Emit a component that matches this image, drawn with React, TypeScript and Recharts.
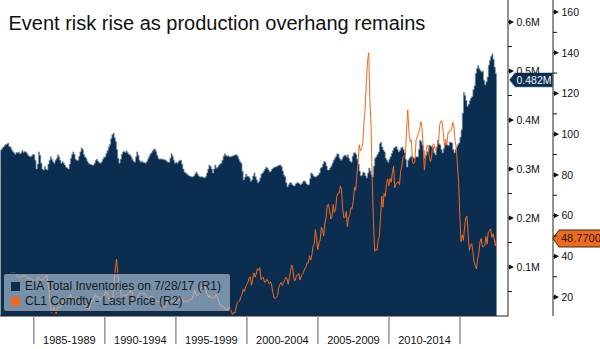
import React from 'react';
import { ComposedChart, Area, Line, XAxis, YAxis, ReferenceLine, Legend } from 'recharts';

// ---- data (monthly, starting Aug 1982) ----
const firstYear = 1982;
const firstMonth = 8;

// EIA total inventories (million barrels -> shown as "M" of thousand barrels)
const inventories: number[] = [
  339, 342, 345, 348, 350,
  351, 353, 346, 345, 340, 336, 333, 330, 334, 333, 335, 331,
  333, 338, 334, 336, 335, 332, 328, 326, 325, 327, 330, 329,
  318, 300, 310, 335, 328, 312, 300, 298, 305, 300, 298, 310,
  318, 325, 320, 315, 312, 318, 322, 329, 325, 318, 312, 315,
  312, 308, 304, 302, 300, 310, 322, 330, 335, 330, 320, 318,
  318, 326, 335, 343, 340, 330, 325, 322, 316, 312, 310, 309,
  308, 308, 312, 318, 320, 316, 313, 312, 315, 320, 324, 325,
  332, 338, 345, 350, 362, 370, 373, 364, 356, 340, 322, 312,
  320, 330, 335, 336, 334, 337, 333, 330, 329, 325, 320, 316,
  314, 325, 335, 328, 318, 314, 316, 314, 313, 312, 315, 320,
  325, 330, 333, 337, 340, 341, 336, 328, 322, 320, 321, 320,
  320, 319, 318, 316, 314, 314, 322, 331, 326, 318, 312, 314,
  312, 316, 318, 318, 310, 300, 294, 292, 290, 288, 286, 285,
  284, 284, 286, 290, 294, 290, 286, 284, 284, 284, 283, 282,
  285, 292, 300, 308, 305, 300, 292, 300, 308, 302, 304, 308,
  310, 312, 318, 326, 331, 328, 326, 327, 325, 325, 326, 327,
  328, 329, 329, 326, 320, 315, 312, 295, 278, 283, 290, 285,
  285, 282, 275, 278, 286, 292, 284, 278, 272, 275, 282, 290,
  292, 296, 300, 304, 302, 298, 294, 296, 300, 302, 304, 304,
  306, 306, 308, 308, 305, 296, 288, 284, 272, 264, 268, 272,
  272, 268, 266, 266, 270, 272, 272, 270, 268, 270, 274, 276,
  274, 270, 268, 268, 280, 292, 290, 286, 284, 284, 286, 288,
  292, 302, 304, 310, 316, 314, 306, 298, 298, 302, 306, 312,
  318, 322, 326, 331, 330, 322, 318, 320, 325, 328, 328, 325,
  329, 322, 316, 314, 326, 333, 333, 330, 320, 310, 296, 286,
  288, 294, 292, 286, 282, 292, 302, 296, 288, 284, 306, 322,
  325, 330, 335, 352, 355, 345, 339, 335, 322, 318, 314, 320,
  325, 332, 338, 343, 345, 346, 340, 335, 338, 343, 345, 340,
  333, 320, 304, 318, 322, 325, 326, 324, 322, 324, 325, 325,
  340, 359, 356, 349, 338, 322, 328, 335, 338, 349, 347, 345,
  345, 333, 329, 345, 359, 352, 349, 340, 333, 342, 353, 350,
  349, 348, 355, 354, 353, 340, 333, 340, 345, 350, 353, 365,
  380, 414, 456, 450, 440, 428, 432, 440, 445, 448, 462, 470,
  495, 505, 511, 505, 501, 498, 500, 481, 472, 478, 488, 512,
  522, 530, 535, 524, 508, 495, 482,
];

// CL1 Comdty last price (USD/bbl)
const prices: (number | null)[] = [
  null, null, null, null, null,
  null, null, null, 31.5, 31.8, 31.6, 31.8, 31.9, 31.2, 30.6, 29.9, 29.4,
  29.8, 30.2, 30.8, 30.6, 30.5, 29.9, 29.0, 29.4, 29.3, 28.9, 28.2, 27.8,
  26.8, 28.0, 29.0, 29.8, 29.0, 28.2, 28.3, 28.6, 29.2, 30.0, 30.8, 27.2,
  22.5, 15.8, 12.4, 12.8, 15.2, 13.3, 11.8, 14.8, 14.9, 15.0, 15.3, 16.2,
  18.6, 17.8, 18.5, 18.9, 19.6, 20.2, 21.3, 20.0, 19.4, 19.8, 18.8, 17.2,
  17.0, 16.8, 16.4, 17.9, 17.6, 16.6, 15.6, 15.4, 14.6, 14.0, 14.2, 16.4,
  18.1, 17.9, 19.6, 21.2, 20.1, 20.2, 19.8, 18.7, 19.8, 20.3, 19.9, 21.5,
  22.9, 22.0, 20.3, 18.5, 18.3, 17.0, 18.8, 27.5, 34.5, 38.5, 31.8, 27.0,
  25.0, 20.6, 19.8, 20.8, 21.2, 20.3, 21.4, 21.8, 22.1, 23.4, 22.6, 19.6,
  18.9, 19.1, 19.0, 20.3, 21.0, 22.3, 21.8, 21.4, 21.9, 21.6, 20.4, 19.5,
  19.2, 20.0, 20.3, 20.3, 19.9, 19.0, 17.8, 18.0, 17.6, 18.2, 16.6, 14.6,
  15.0, 14.8, 14.8, 16.5, 17.9, 19.2, 19.7, 18.4, 17.6, 17.8, 18.1, 17.3,
  18.0, 18.5, 18.6, 19.9, 19.7, 18.4, 17.4, 18.0, 18.2, 17.5, 18.1, 19.1,
  18.9, 19.2, 21.4, 23.5, 21.3, 20.6, 21.4, 22.0, 24.0, 25.0, 23.8, 25.4,
  25.2, 22.2, 21.0, 19.8, 20.8, 19.3, 19.7, 19.9, 19.8, 21.3, 20.3, 18.4,
  16.8, 16.1, 15.1, 15.5, 15.0, 13.8, 14.2, 13.4, 15.1, 14.5, 12.9, 11.4,
  12.6, 12.1, 14.8, 17.4, 17.9, 18.0, 20.2, 21.3, 23.9, 22.7, 25.1, 26.2,
  27.3, 29.5, 29.9, 25.8, 28.9, 31.9, 29.8, 31.3, 33.9, 33.2, 34.5, 28.5,
  29.6, 29.7, 27.3, 27.5, 28.7, 27.7, 26.6, 27.5, 26.0, 22.3, 19.7, 19.4,
  19.8, 20.8, 24.5, 26.3, 27.1, 25.6, 27.0, 28.4, 29.7, 29.0, 26.3, 29.5,
  33.0, 35.8, 33.5, 28.3, 28.2, 30.7, 30.8, 31.6, 28.4, 30.3, 31.1, 32.2,
  34.3, 34.7, 36.8, 36.8, 40.3, 38.1, 40.7, 44.9, 45.9, 53.2, 48.5, 43.3,
  46.8, 48.0, 54.3, 53.0, 49.9, 56.4, 59.0, 65.0, 65.6, 62.4, 58.3, 59.4,
  65.5, 61.6, 62.9, 69.4, 70.8, 71.0, 74.4, 73.0, 63.8, 58.9, 59.1, 62.0,
  54.5, 59.3, 60.4, 63.9, 63.5, 67.5, 74.1, 72.4, 79.9, 85.8, 94.8, 91.7,
  92.9, 95.4, 105.4, 112.6, 125.4, 136.0, 140.0, 116.7, 104.1, 76.6, 57.3, 42.5,
  43.5, 43.0, 48.0, 49.7, 59.0, 69.6, 64.1, 71.0, 69.4, 75.7, 78.0, 74.5,
  78.3, 76.4, 81.2, 84.3, 73.7, 75.3, 76.3, 76.6, 75.2, 81.9, 84.2, 89.0,
  89.4, 89.6, 102.9, 112.0, 100.9, 96.3, 97.3, 86.3, 85.5, 86.3, 97.2, 98.6,
  100.3, 102.2, 106.2, 103.3, 94.7, 82.3, 87.9, 94.1, 94.5, 89.5, 86.5, 87.9,
  94.8, 95.3, 92.9, 92.0, 94.5, 95.8, 104.6, 106.6, 106.3, 100.5, 93.9, 97.6,
  94.6, 100.8, 100.8, 102.1, 102.2, 105.8, 103.6, 96.5, 93.2, 84.4, 75.8, 59.3,
  47.2, 50.6, 47.8, 54.5, 59.3, 59.8, 50.9, 42.9, 45.5, 46.2, 42.4, 37.2,
  35.5, 33.8, 38.5, 41.5, 47.0, 48.8, 44.7, 44.7, 45.2, 49.8, 46.0, 52.0,
  52.5, 53.5, 49.3, 51.1, 48.5, 45.2, 48.77,
];

const periodStarts = [1985, 1990, 1995, 2000, 2005, 2010, 2015];
const periodLabels = ['1985-1989', '1990-1994', '1995-1999', '2000-2004', '2005-2009', '2010-2014'];
const xDomain: [number, number] = [1982.62, 2018.38];
const r1Ticks = [50, 100, 150, 200, 250, 300, 350, 400, 450, 500, 550, 600];
const r1Major = [100, 200, 300, 400, 500, 600];
const r1Domain: [number, number] = [0, 645];
const r2Ticks = [20, 30, 40, 50, 60, 70, 80, 90, 100, 110, 120, 130, 140, 150, 160];
const r2Major = [20, 40, 60, 80, 100, 120, 140, 160];
const r2Domain: [number, number] = [10.7, 165.9];

const titleText = 'Event risk rise as production overhang remains';
const seriesNames = ['EIA Total Inventories on 7/28/17 (R1)', 'CL1 Comdty - Last Price (R2)'];

const NAVY = '#0b2e50';
const ORANGE = '#f06a1e';
const FONT = '"Liberation Sans", Arial, sans-serif';

const rows = inventories.map((inv, i) => ({
  t: firstYear + (firstMonth - 1 + i + 0.9) / 12,
  inv,
  price: prices[i],
}));

const lastInventory = inventories[inventories.length - 1];
const lastPrice = prices[prices.length - 1] as number;

const xTicks: number[] = [];
periodStarts.forEach((s, k) => {
  xTicks.push(s);
  if (k < periodLabels.length) xTicks.push(s + 2.5);
});

const XTick = (props: any) => {
  const { x, y, payload } = props;
  const v = payload.value;
  const idx = periodStarts.indexOf(v);
  if (idx >= 0) {
    return <line x1={x} x2={x} y1={y} y2={y + 28} stroke="#9a9a9a" strokeWidth={1.6} />;
  }
  const li = periodStarts.indexOf(v - 2.5);
  return (
    <text x={x} y={y + 28} textAnchor="middle" fontSize={11} fontFamily={FONT} fill="#111">
      {periodLabels[li]}
    </text>
  );
};

const makeYTick = (major: number[], fmt: (v: number) => string) => (props: any) => {
  const { x, y, payload } = props;
  const v = payload.value;
  if (major.indexOf(v) >= 0) {
    return (
      <g>
        <line x1={x} x2={x + 2} y1={y} y2={y} stroke="#111" strokeWidth={1} />
        <polygon points={`${x + 1},${y - 2.6} ${x + 6},${y} ${x + 1},${y + 2.6}`} fill="#111" />
        <text x={x + 8.5} y={y + 3.8} fontSize={10.5} fontFamily={FONT} fill="#111">
          {fmt(v)}
        </text>
      </g>
    );
  }
  return <line x1={x} x2={x + 4} y1={y} y2={y} stroke="#111" strokeWidth={1} />;
};

const R1Tick = makeYTick(r1Major, (v) => `${(v / 1000).toFixed(1)}M`);
const R2Tick = makeYTick(r2Major, (v) => `${v}`);

const NavyBadge = (props: any) => {
  const vb = props.viewBox || {};
  const tip = vb.x + vb.width + 1;
  const y = vb.y;
  const h = 7.5;
  return (
    <g>
      <polygon
        points={`${tip},${y} ${tip + 6},${y - h} ${tip + 44},${y - h} ${tip + 44},${y + h} ${tip + 6},${y + h}`}
        fill={NAVY}
        stroke="#cfdff0"
        strokeWidth={1}
      />
      <text x={tip + 7.5} y={y + 3.8} fontSize={10.5} fontFamily={FONT} fill="#eef4fa">
        {`${(lastInventory / 1000).toFixed(3)}M`}
      </text>
    </g>
  );
};

const OrangeBadge = (props: any) => {
  const vb = props.viewBox || {};
  const tip = vb.x + vb.width + 45;
  const y = vb.y;
  const h = 8.5;
  return (
    <g>
      <polygon
        points={`${tip},${y} ${tip + 6},${y - h} ${tip + 52},${y - h} ${tip + 52},${y + h} ${tip + 6},${y + h}`}
        fill={ORANGE}
        stroke="#3a2a20"
        strokeWidth={1}
      />
      <text x={tip + 8} y={y + 4} fontSize={11} fontFamily={FONT} fill="#1a1a1a">
        {lastPrice.toFixed(4)}
      </text>
    </g>
  );
};

const LegendBox = () => (
  <div
    style={{
      width: 228,
      height: 39,
      boxSizing: 'border-box',
      background: 'rgba(190,210,230,0.6)',
      border: '1px solid #1c2733',
      borderRadius: 3,
      position: 'relative',
      fontFamily: FONT,
      fontSize: 12,
      color: '#141a20',
    }}
  >
    {seriesNames.map((name, k) => (
      <div
        key={name}
        style={{
          position: 'absolute',
          left: 7,
          top: 5 + k * 15,
          height: 15,
          lineHeight: '15px',
          display: 'flex',
          alignItems: 'center',
          whiteSpace: 'nowrap',
        }}
      >
        <span
          style={{
            display: 'inline-block',
            width: 9,
            height: 9,
            background: k === 0 ? NAVY : ORANGE,
            marginRight: 5,
          }}
        />
        <span>{name}</span>
      </div>
    ))}
  </div>
);

export default function App() {
  return (
    <div
      style={{
        position: 'fixed',
        left: 0,
        top: 0,
        width: 600,
        height: 349,
        background: '#fff',
        overflow: 'hidden',
        fontFamily: FONT,
      }}
    >
      <ComposedChart width={600} height={349} data={rows} margin={{ top: 0, right: 0, bottom: 0, left: 0 }}>
        <XAxis
          dataKey="t"
          type="number"
          domain={xDomain}
          allowDataOverflow
          ticks={xTicks}
          interval={0}
          height={33}
          tickLine={false}
          tickSize={0}
          tickMargin={0}
          axisLine={{ stroke: '#222' }}
          tick={XTick}
        />
        <YAxis
          yAxisId="r1"
          orientation="right"
          width={45}
          domain={r1Domain}
          ticks={r1Ticks}
          interval={0}
          tickLine={false}
          tickSize={0}
          tickMargin={0}
          axisLine={{ stroke: '#222' }}
          tick={R1Tick}
        />
        <YAxis
          yAxisId="r2"
          orientation="right"
          width={47}
          domain={r2Domain}
          ticks={r2Ticks}
          interval={0}
          tickLine={false}
          tickSize={0}
          tickMargin={0}
          axisLine={{ stroke: '#222' }}
          tick={R2Tick}
        />
        <Area
          yAxisId="r1"
          dataKey="inv"
          type="stepAfter"
          fill={NAVY}
          fillOpacity={1}
          stroke="#7f97ae"
          strokeWidth={0.7}
          isAnimationActive={false}
          dot={false}
          activeDot={false}
        />
        <Line
          yAxisId="r2"
          dataKey="price"
          type="linear"
          stroke={ORANGE}
          strokeWidth={1}
          dot={false}
          activeDot={false}
          connectNulls={false}
          isAnimationActive={false}
        />
        <ReferenceLine yAxisId="r1" y={lastInventory} stroke="none" ifOverflow="visible" label={NavyBadge} />
        <ReferenceLine yAxisId="r2" y={lastPrice} stroke="none" ifOverflow="visible" label={OrangeBadge} />
        <Legend
          layout="horizontal"
          verticalAlign="middle"
          align="center"
          content={LegendBox}
          wrapperStyle={{ left: 3, top: 273, width: 228, height: 39 }}
        />
      </ComposedChart>
      <div
        style={{
          position: 'absolute',
          left: 8.5,
          top: 12,
          fontSize: 20,
          lineHeight: '23px',
          color: '#111',
          whiteSpace: 'nowrap',
          fontFamily: FONT,
        }}
      >
        {titleText}
      </div>
    </div>
  );
}
